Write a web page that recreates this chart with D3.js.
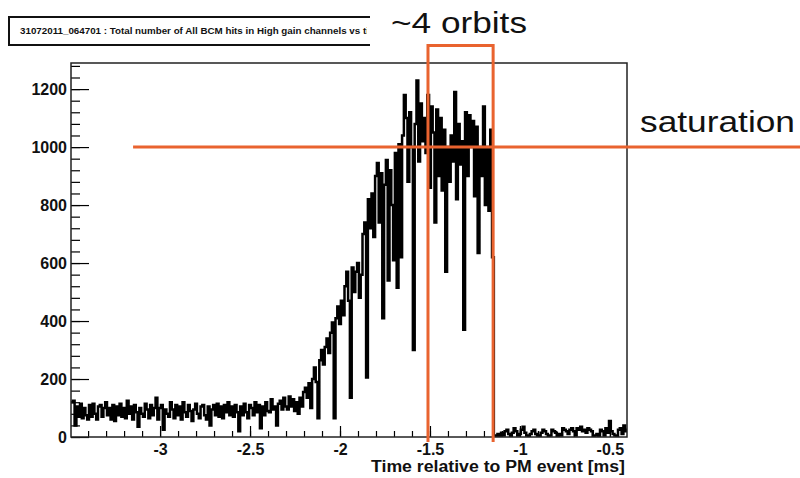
<!DOCTYPE html>
<html>
<head>
<meta charset="utf-8">
<script src="https://cdn.jsdelivr.net/npm/d3@7"></script>
<style>
body { margin: 0; background: #fff; }
svg { display: block; }
text { font-family: "Liberation Sans", Arial, Helvetica, sans-serif; }
</style>
</head>
<body>
<svg id="chart" width="800" height="478"></svg>
<script>
// histogram of BCM hits, one value per 0.01 ms bin starting at -3.495 ms
const binStart = -3.495
const binWidth = 0.01

const baselineCounts = [
    120, 125, 40, 105, 70, 115, 65, 100, 75, 60,
    110, 70, 115, 80, 60, 105, 110, 70, 100, 120,
    75, 100, 60, 110, 55, 105, 75, 115, 70, 100,
    65, 125, 80, 105, 60, 110, 85, 35, 100, 80,
    70, 115, 95, 65, 110, 75, 100, 135, 60, 100,
    110, 25, 95, 80, 70, 120, 95, 65, 110, 75,
    105, 60, 120, 85, 70, 110, 90, 55, 95, 115,
    80, 65, 105, 110, 75, 60, 105, 40, 95, 110,
    75, 115, 70, 105, 65, 110, 85, 120, 75, 105,
    70, 110, 85, 20, 105, 75, 115, 85, 65, 110,
    100, 75, 120, 85, 110, 30, 105, 75, 120, 90,
    85, 130, 95, 105, 40, 115, 125, 95, 135, 105,
    95, 140
]

const riseCounts = [
    105, 130, 90, 120, 80, 135, 105, 155, 170, 135,
    185, 100, 200, 240, 190, 65, 265, 300, 250, 310,
    340, 290, 360, 395, 65, 410, 450, 390, 470, 420,
    520, 570, 470, 135, 585, 500, 570, 600, 480, 560,
    700, 740, 205, 820, 720, 840, 690, 900, 945, 740,
    910, 410, 870, 955, 540, 920, 800, 610, 980, 515,
    1010, 620, 1040, 1180
]

const plateauCounts = [
    1100, 880, 1120, 1000, 300, 1080, 1230, 950, 1150, 1020,
    1100, 980, 1180, 860, 1140, 1050, 740, 1130, 900, 1100,
    850, 1060, 570, 1000, 880, 1040, 950, 1190, 820, 1080,
    940, 1020, 370, 1120, 900, 1110, 1000, 1090, 830, 1070,
    635, 1000, 900, 1140, 800, 1000, 780, 1060, 620
]

const tailCounts = [
    5, 0, 10, 0, 15, 5, 20, 25, 10, 0,
    15, 30, 20, 5, 10, 25, 35, 15, 5, 0,
    10, 20, 25, 10, 5, 0, 15, 25, 20, 10,
    0, 5, 25, 20, 15, 0, 10, 5, 30, 25,
    20, 10, 25, 30, 20, 5, 30, 25, 35, 20,
    25, 15, 30, 25, 20, 0, 5, 10, 0, 25,
    20, 5, 30, 15, 55, 20, 10, 5, 0, 25,
    30, 10, 40, 20, 25
]

const counts = baselineCounts.concat(riseCounts, plateauCounts, tailCounts)

const xTicks = [-3, -2.5, -2, -1.5, -1, -0.5]
const yTicks = [0, 200, 400, 600, 800, 1000, 1200]
const saturationLevel = 1000
const orbitWindow = [-1.511, -1.149]
const titleText = "31072011_064701 : Total number of All BCM hits in High gain channels vs time"

const svg = d3.select("#chart")
const orange = "#e9632f"

const x = d3.scaleLinear().domain([-3.495, -0.405]).range([71, 627])
const y = d3.scaleLinear().domain([0, 1290]).range([437, 63])

svg.append("defs").append("clipPath").attr("id", "plotclip")
    .append("rect")
    .attr("x", x.range()[0]).attr("y", y.range()[1])
    .attr("width", x.range()[1] - x.range()[0])
    .attr("height", y.range()[0] - y.range()[1])

svg.append("defs").append("clipPath").attr("id", "titleclip")
    .append("rect").attr("x", 0).attr("y", 0).attr("width", 367).attr("height", 60)

// title pave, cut off on the right like in the screenshot
svg.append("path")
    .attr("d", "M370,17 H9 V45 H370")
    .attr("fill", "none")
    .attr("stroke", "#111")
    .attr("stroke-width", 2)

svg.append("text")
    .attr("clip-path", "url(#titleclip)")
    .attr("x", 20).attr("y", 34)
    .attr("font-size", 9)
    .attr("font-weight", "bold")
    .attr("textLength", 363)
    .attr("lengthAdjust", "spacingAndGlyphs")
    .attr("fill", "#111")
    .text(titleText)

// step outline of the histogram
const steps = []
counts.forEach(function(c, i) {
    const x0 = binStart + i * binWidth
    steps.push([x0, c])
    steps.push([x0 + binWidth, c])
})

const line = d3.line()
    .x(d => x(d[0]))
    .y(d => y(d[1]))

svg.append("path")
    .datum(steps)
    .attr("clip-path", "url(#plotclip)")
    .attr("d", line)
    .attr("fill", "none")
    .attr("stroke", "#000")
    .attr("stroke-width", 2.5)

// axes, ticks point into the frame (ROOT style)
const xAxis = d3.axisBottom(x)
    .tickValues(d3.range(-3.4, -0.41, 0.1).map(v => Math.round(v * 10) / 10))
    .tickSize(-6)
    .tickFormat("")

svg.append("g")
    .attr("transform", "translate(0," + y(0) + ")")
    .call(xAxis)

svg.append("g")
    .attr("class", "xmajor")
    .attr("transform", "translate(0," + y(0) + ")")
    .call(d3.axisBottom(x).tickValues(xTicks).tickSize(-11).tickPadding(7)
        .tickFormat(d => String(d)))

svg.append("g")
    .attr("transform", "translate(" + x.range()[0] + ",0)")
    .call(d3.axisLeft(y).tickValues(d3.range(0, 1290, 40)).tickSize(-9).tickFormat(""))

svg.append("g")
    .attr("class", "ymajor")
    .attr("transform", "translate(" + x.range()[0] + ",0)")
    .call(d3.axisLeft(y).tickValues(yTicks).tickSize(-18).tickPadding(4)
        .tickFormat(d => String(d)))

svg.selectAll(".domain").remove()
svg.selectAll(".tick line").attr("stroke", "#000").attr("stroke-width", 1.2)
svg.selectAll(".xmajor text, .ymajor text")
    .attr("font-family", "'Liberation Sans', Arial, sans-serif")
    .attr("font-size", 16)
    .attr("font-weight", "bold")
    .attr("fill", "#111")

// frame
svg.append("rect")
    .attr("x", x.range()[0]).attr("y", y.range()[1])
    .attr("width", x.range()[1] - x.range()[0])
    .attr("height", y.range()[0] - y.range()[1])
    .attr("fill", "none")
    .attr("stroke", "#222")
    .attr("stroke-width", 1.5)

svg.append("text")
    .attr("x", 371).attr("y", 472)
    .attr("font-size", 16)
    .attr("font-weight", "bold")
    .attr("textLength", 254)
    .attr("lengthAdjust", "spacingAndGlyphs")
    .attr("fill", "#111")
    .text("Time relative to PM event [ms]")

// annotations drawn on top
svg.append("line")
    .attr("x1", x(-3.15)).attr("x2", 800)
    .attr("y1", y(saturationLevel)).attr("y2", y(saturationLevel))
    .attr("stroke", orange)
    .attr("stroke-width", 3)

svg.append("path")
    .attr("d", "M" + x(orbitWindow[0]) + "," + y(-17) +
        " V" + y(1350) + " H" + x(orbitWindow[1]) + " V" + y(-17))
    .attr("fill", "none")
    .attr("stroke", orange)
    .attr("stroke-width", 3)

svg.append("text")
    .attr("x", 391).attr("y", 33)
    .attr("font-size", 29)
    .attr("textLength", 136)
    .attr("lengthAdjust", "spacingAndGlyphs")
    .attr("fill", "#111")
    .text("~4 orbits")

svg.append("text")
    .attr("x", 640).attr("y", 132)
    .attr("font-size", 29)
    .attr("textLength", 155)
    .attr("lengthAdjust", "spacingAndGlyphs")
    .attr("fill", "#111")
    .text("saturation")
</script>
</body>
</html>
